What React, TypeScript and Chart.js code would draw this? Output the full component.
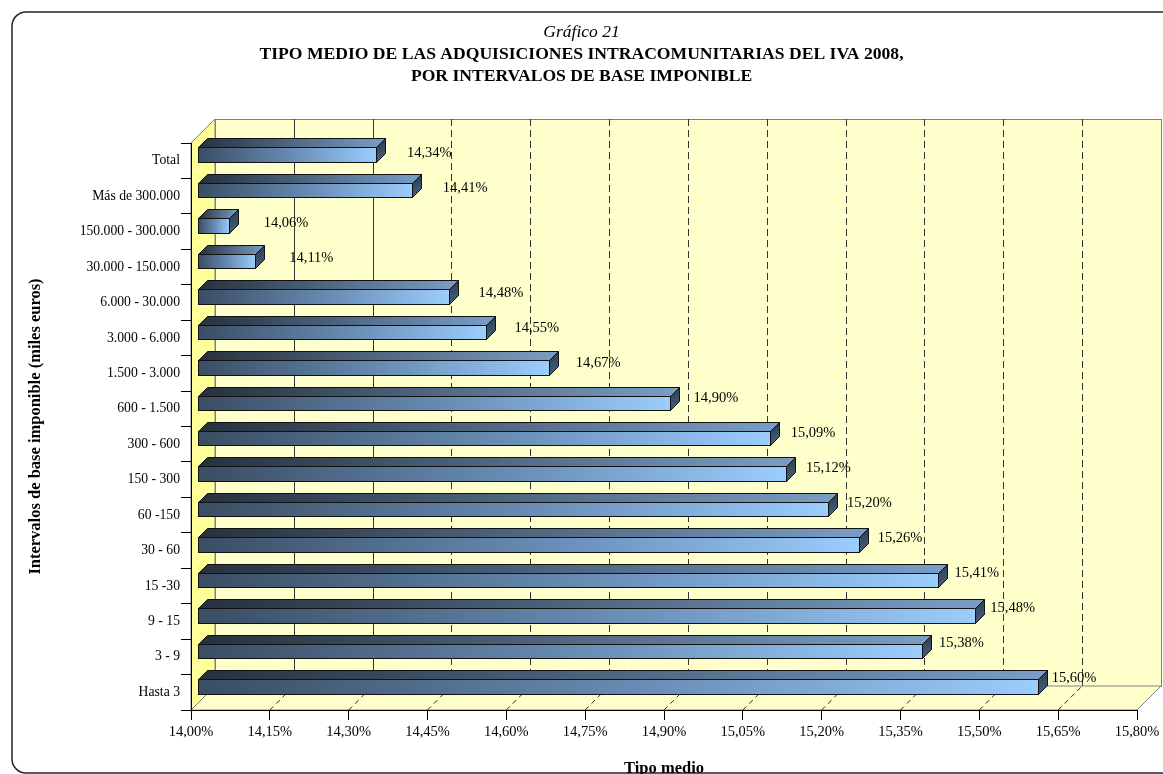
import React, { useEffect, useRef } from 'react';
import { Chart, registerables } from 'chart.js';

Chart.register(...registerables);

const categories = [
  'Total',
  'Más de 300.000',
  '150.000 - 300.000',
  '30.000 - 150.000',
  '6.000 - 30.000',
  '3.000 - 6.000',
  '1.500 - 3.000',
  '600 - 1.500',
  '300 - 600',
  '150 - 300',
  '60 -150',
  '30 - 60',
  '15 -30',
  '9 - 15',
  '3 - 9',
  'Hasta 3',
];

const tipoMedio = [
  14.34, 14.41, 14.06, 14.11, 14.48, 14.55, 14.67, 14.9, 15.09, 15.12, 15.2, 15.26, 15.41, 15.48, 15.38, 15.6,
];

const xMin = 14.0;
const xMax = 15.8;
const xTickValues = [14.0, 14.15, 14.3, 14.45, 14.6, 14.75, 14.9, 15.05, 15.2, 15.35, 15.5, 15.65, 15.8];
const xTickLabels = [
  '14,00%', '14,15%', '14,30%', '14,45%', '14,60%', '14,75%', '14,90%',
  '15,05%', '15,20%', '15,35%', '15,50%', '15,65%', '15,80%',
];

const titleText = 'Gráfico 21';
const subtitleText = [
  'TIPO MEDIO DE LAS ADQUISICIONES INTRACOMUNITARIAS DEL IVA 2008,',
  'POR INTERVALOS DE BASE IMPONIBLE',
];
const xAxisTitle = 'Tipo medio';
const yAxisTitle = 'Intervalos de base imponible (miles euros)';

const SERIF = "'Liberation Serif', 'Times New Roman', serif";
const DEPTH = 24; // wall depth
const BAR_FRONT = 6; // bar front face depth
const BAR_DEPTH = 9; // bar thickness in depth

const fmtPct = (v: number) => v.toFixed(2).replace('.', ',') + '%';

const threeDPlugin = {
  id: 'threeD',
  beforeDraw(chart: any) {
    const { ctx, chartArea: a, scales } = chart;
    const x = scales.x;
    const L = a.left, R = a.right, T = a.top, B = a.bottom, d = DEPTH;
    ctx.save();
    // outer rounded frame
    ctx.strokeStyle = '#262626';
    ctx.lineWidth = 1.5;
    ctx.beginPath();
    (ctx as any).roundRect(12, 12, 1200, 761, 14);
    ctx.stroke();

    // back wall
    ctx.fillStyle = '#ffffcc';
    ctx.fillRect(L + d, T - d, R - L, B - T);
    ctx.strokeStyle = '#808080';
    ctx.lineWidth = 1;
    ctx.strokeRect(Math.round(L + d) + 0.5, Math.round(T - d) + 0.5, Math.round(R - L), Math.round(B - T));

    // back wall gridlines
    xTickValues.forEach((v, i) => {
      if (i === 0 || i === xTickValues.length - 1) return;
      const px = Math.round(x.getPixelForValue(v) + d) + 0.5;
      ctx.strokeStyle = '#333333';
      ctx.setLineDash(i <= 2 ? [] : [7, 4]);
      ctx.beginPath();
      ctx.moveTo(px, T - d);
      ctx.lineTo(px, B - d);
      ctx.stroke();
    });
    ctx.setLineDash([]);

    // floor
    ctx.fillStyle = '#ffffcc';
    ctx.strokeStyle = '#808080';
    ctx.beginPath();
    ctx.moveTo(L, B);
    ctx.lineTo(L + d, B - d);
    ctx.lineTo(R + d, B - d);
    ctx.lineTo(R, B);
    ctx.closePath();
    ctx.fill();
    ctx.stroke();

    // floor gridlines
    ctx.strokeStyle = '#222';
    ctx.setLineDash([5, 4]);
    xTickValues.forEach((v, i) => {
      if (i === 0 || i === xTickValues.length - 1) return;
      const px = x.getPixelForValue(v);
      ctx.beginPath();
      ctx.moveTo(px, B);
      ctx.lineTo(px + d, B - d);
      ctx.stroke();
    });
    ctx.setLineDash([]);

    // left side wall
    ctx.fillStyle = '#ffff99';
    ctx.strokeStyle = '#808080';
    ctx.beginPath();
    ctx.moveTo(L, T);
    ctx.lineTo(L + d, T - d);
    ctx.lineTo(L + d, B - d);
    ctx.lineTo(L, B);
    ctx.closePath();
    ctx.fill();
    ctx.stroke();
    ctx.restore();
  },
  afterDatasetsDraw(chart: any) {
    const { ctx, chartArea: a } = chart;
    const meta = chart.getDatasetMeta(0);
    const ds = chart.data.datasets[0];
    ctx.save();
    meta.data.forEach((bar: any, i: number) => {
      const p = bar.getProps(['x', 'y', 'base', 'height'], true);
      const x0 = Math.round(p.base + BAR_FRONT) + 0.5;
      const x1 = Math.round(p.x + BAR_FRONT) + 0.5;
      const y0 = Math.round(p.y - p.height / 2 - BAR_FRONT) + 0.5;
      const y1 = Math.round(p.y + p.height / 2 - BAR_FRONT) + 0.5;
      const e = BAR_DEPTH;
      ctx.lineWidth = 1;
      ctx.strokeStyle = '#111';
      ctx.lineJoin = 'miter';

      // top face
      const gTop = ctx.createLinearGradient(x0, 0, x1 + e, 0);
      gTop.addColorStop(0, '#26313d');
      gTop.addColorStop(1, '#7a9ec6');
      ctx.fillStyle = gTop;
      ctx.beginPath();
      ctx.moveTo(x0, y0);
      ctx.lineTo(x0 + e, y0 - e);
      ctx.lineTo(x1 + e, y0 - e);
      ctx.lineTo(x1, y0);
      ctx.closePath();
      ctx.fill();
      ctx.stroke();

      // side face
      const gSide = ctx.createLinearGradient(x1, y0 - e, x1 + e, y1);
      gSide.addColorStop(0, '#2a3848');
      gSide.addColorStop(1, '#4a6684');
      ctx.fillStyle = gSide;
      ctx.beginPath();
      ctx.moveTo(x1, y0);
      ctx.lineTo(x1 + e, y0 - e);
      ctx.lineTo(x1 + e, y1 - e);
      ctx.lineTo(x1, y1);
      ctx.closePath();
      ctx.fill();
      ctx.stroke();

      // front face
      const gFront = ctx.createLinearGradient(x0, 0, x1, 0);
      gFront.addColorStop(0, '#3a4d63');
      gFront.addColorStop(0.55, '#6a8fb8');
      gFront.addColorStop(1, '#9bcdfd');
      ctx.fillStyle = gFront;
      ctx.fillRect(x0, y0, x1 - x0, y1 - y0);
      ctx.strokeRect(x0, y0, x1 - x0, y1 - y0);

      // value label (slight perspective drift like the original)
      const fx = (p.x - a.left) / (a.right - a.left);
      const fc = p.y - BAR_FRONT;
      const fy = (fc - a.top) / (a.bottom - a.top);
      ctx.fillStyle = '#000';
      ctx.font = `14.5px ${SERIF}`;
      ctx.textAlign = 'left';
      ctx.textBaseline = 'middle';
      ctx.fillText(fmtPct(ds.data[i]), p.x + 42 - 25 * fx, fc - 1 - 7 * fy);
    });
    ctx.restore();
  },
};

export default function App() {
  const ref = useRef<HTMLCanvasElement | null>(null);

  useEffect(() => {
    if (!ref.current) return;
    const chart = new Chart(ref.current, {
      type: 'bar',
      data: {
        labels: categories,
        datasets: [
          {
            label: 'Tipo medio',
            data: tipoMedio,
            base: xMin,
            backgroundColor: 'rgba(0,0,0,0)',
            borderWidth: 0,
            barPercentage: 0.41,
            categoryPercentage: 1,
          },
        ],
      },
      options: {
        indexAxis: 'y',
        animation: false,
        responsive: false,
        devicePixelRatio: 1,
        layout: { padding: { left: 26, right: 26, top: 0, bottom: 0 } },
        plugins: {
          legend: { display: false },
          tooltip: { enabled: false },
          title: {
            display: true,
            text: titleText,
            color: '#000',
            font: { family: SERIF, size: 17.5, style: 'italic', weight: 'normal', lineHeight: 22 / 17.5 },
            padding: { top: 21, bottom: 0 },
          },
          subtitle: {
            display: true,
            text: subtitleText,
            color: '#000',
            font: { family: SERIF, size: 17.6, weight: 'bold', lineHeight: 22 / 17.6 },
            padding: { top: 0, bottom: 56 },
          },
        },
        scales: {
          x: {
            type: 'linear',
            min: xMin,
            max: xMax,
            afterBuildTicks: (scale: any) => {
              scale.ticks = xTickValues.map((v) => ({ value: v }));
            },
            afterFit: (scale: any) => {
              scale.height = 64;
            },
            ticks: {
              autoSkip: false,
              maxRotation: 0,
              padding: 3,
              color: '#000',
              font: { family: SERIF, size: 14.5 },
              callback: (_v: any, idx: number) => xTickLabels[idx],
            },
            grid: { drawOnChartArea: false, drawTicks: true, tickLength: 10, color: '#000' },
            border: { display: true, color: '#000', width: 1 },
            title: {
              display: true,
              text: xAxisTitle,
              color: '#000',
              font: { family: SERIF, size: 16.5, weight: 'bold', lineHeight: 0.6 },
              padding: 0,
            },
          },
          y: {
            type: 'category',
            afterFit: (scale: any) => {
              scale.width = 165;
            },
            ticks: {
              autoSkip: false,
              padding: 1,
              color: '#000',
              font: { family: SERIF, size: 13.7 },
            },
            grid: { drawOnChartArea: false, drawTicks: true, tickLength: 10, offset: true, color: '#000' },
            border: { display: true, color: '#000', width: 1 },
            title: {
              display: true,
              text: yAxisTitle,
              color: '#000',
              font: { family: SERIF, size: 16.5, weight: 'bold', lineHeight: 1 },
              padding: { top: 1.5, bottom: 0 },
            },
          },
        },
      },
      plugins: [threeDPlugin],
    } as any);
    return () => chart.destroy();
  }, []);

  return (
    <div style={{ position: 'fixed', left: 0, top: 0, width: 1163, height: 774, background: '#fff' }}>
      <canvas ref={ref} width={1163} height={774} style={{ display: 'block' }} />
    </div>
  );
}
